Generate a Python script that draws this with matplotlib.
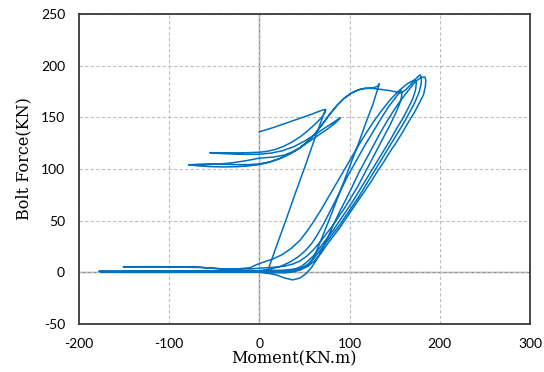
import matplotlib
matplotlib.use("Agg")
import matplotlib.pyplot as plt

plt.rcParams['axes.unicode_minus'] = False

# -----------------------------
# Data: (Moment KN.m, Bolt Force KN)
# -----------------------------
# upper band: first cycles, then the arc up into the bundle
upper_cycles = [
    (0, 136), (15, 140), (30, 144.5), (45, 149), (58, 153), (66, 155.8), (71, 157.3),
    (73.5, 157.5), (73, 155), (70.5, 151.5), (66, 147), (60, 142), (53, 136.5),
    (45, 131), (36, 126), (27, 122), (18, 119), (8, 117), (0, 116.2), (-12, 115.8),
    (-25, 115.6), (-40, 115.7), (-55, 115.8),
    (-45, 115.1), (-30, 114.5), (-15, 114.1), (0, 114.3), (12, 115.3), (25, 117.5),
    (38, 121.5), (50, 127), (62, 133.5), (73, 140), (82, 145), (87, 148), (89.5, 149.6),
    (88.5, 148.2), (84, 144.5), (76, 139), (66, 133), (55, 126.5), (44, 120), (33, 114.5),
    (22, 110), (11, 106.5), (0, 104.3), (-12, 103), (-25, 102.2), (-40, 102), (-55, 102.3),
    (-67, 103), (-78, 104),
    (-68, 104.6), (-55, 104.8), (-40, 104.5), (-25, 104.2), (-10, 104.3), (0, 105),
    (12, 107), (24, 110.5), (35, 115), (45, 120.5), (54, 127), (62, 134.5), (70, 143.5),
    (78, 153), (86, 161.5), (94, 168.5), (102, 173.5), (110, 176.7), (117, 178), (125, 178),
    (135, 177), (145, 175.8), (152, 174.5), (157, 173.5), (162, 176.5), (167, 181),
    (172, 186), (176, 189.5), (178, 191),
]
unload_a = [
    (179.5, 189), (179.5, 183), (177, 174), (172, 164), (166, 154), (159, 143), (152, 133),
    (145, 123), (138, 113), (131, 103), (124, 93), (117, 83), (110, 73), (103, 64),
    (96, 55), (89, 46), (82, 38), (75, 30), (68, 22), (61, 14), (54, 8), (47, 4),
    (39, 1.5), (30, 0.3), (18, 0), (0, 0.3), (-30, 0.3), (-80, 0.2), (-130, 0.2), (-176, 0.3),
]
load_hook = [
    (-130, 0.8), (-80, 0.8), (-40, 0.8), (0, 1.5), (12, 3), (24, 6), (34, 10), (43, 15),
    (51, 21), (58, 28), (64, 36), (70, 45), (76, 55), (83, 67), (91, 81),
    (99, 95), (108, 109), (117, 123), (126, 136), (135, 149), (143, 160), (150, 168),
    (154.5, 173), (157, 176),
]
unload_hook = [
    (158, 173), (157, 167), (154, 160), (150, 152), (145, 143), (139, 133), (133, 123),
    (127, 113), (121, 103), (115, 93), (109, 83), (102, 73), (95, 63), (88, 54), (81, 45),
    (74, 37), (67, 29), (60, 22), (53, 16), (45, 11), (37, 8), (28, 6), (18, 5), (8, 4.5),
    (0, 4), (-10, 3.2), (-25, 3.2), (-40, 3.3), (-55, 4.2), (-66, 5), (-90, 5.4),
    (-120, 5.5), (-151, 5.4),
]
load_shallow = [
    (-120, 5.1), (-90, 5), (-66, 4.7), (-45, 3.5), (-25, 3.3), (-10, 4.5), (-3, 7.5),
    (5, 10), (15, 13), (25, 17), (35, 23), (45, 31), (53, 40), (60, 49), (68, 60),
    (76, 72), (84, 84), (92, 96), (100, 108), (108, 120), (117, 133), (126, 145),
    (135, 156), (145, 167), (155, 176), (164, 182.5), (172.5, 186.5),
]
unload_shallow = [
    (174, 183), (173, 176), (170, 168), (165, 159), (159, 149), (152, 139), (145, 128),
    (138, 118), (131, 108), (124, 98), (117, 88), (110, 78), (103, 68), (96, 59), (89, 50),
    (82, 41), (75, 33), (68, 25), (61, 17), (54, 11), (47, 6), (39, 3), (30, 1),
    (18, 0.3), (0, 0.5), (-60, 0.5), (-120, 0.3), (-172, 0.3),
]
load_dip = [
    (-150, 0), (-100, 0), (-50, 0.3), (-20, 0.5), (0, 0), (10, -1), (19, -2.6), (28, -5.5),
    (37, -7.3), (45, -5.5), (52, -1), (58, 5), (64, 13), (70, 23), (76, 34), (82, 46),
    (88, 57), (95, 69), (103, 83), (110, 96), (118, 109), (126, 122), (134, 135),
    (142, 147), (150, 158), (158, 168), (166, 177), (173, 184.5), (179, 188.5), (183.5, 189),
]
unload_dip = [
    (184.5, 186), (184, 180), (182, 172), (178, 165), (172, 155), (165, 145), (159, 136),
    (152, 126), (145, 117), (138, 107), (131, 98), (124, 88), (117, 79), (110, 70),
    (103, 61), (96, 52), (89, 43), (82, 35), (75, 27), (68, 18), (61, 11), (54, 6),
    (46, 2.5), (38, 0.5), (28, -0.5), (15, -0.3), (0, 0.3), (-40, 1), (-100, 1.2), (-178, 1),
]
# last steep reload to the 133 KN.m tip, then back along the arc
load_steep = [
    (-130, 0.8), (-80, 0.8), (-30, 1), (0, 1.5), (25, 2), (45, 3.5), (55, 7), (60, 14),
    (65, 24), (70, 35), (77, 50), (88, 75), (99, 100), (110, 125), (119, 147), (126, 163),
    (130, 174), (133, 182.5),
]
unload_arc = [
    (131, 180), (125, 178.3), (117, 178), (110, 176.7), (102, 173.5), (94, 168.5),
    (86, 161.5), (78, 153), (70, 143.5), (62, 134.5), (54, 127), (45, 120.5), (38, 117),
    (28, 113.5), (15, 111.5), (0, 110.5), (-15, 108), (-30, 106), (-45, 104.8),
    (-60, 104.2), (-78, 104),
]
# separate steep branch from the lower band up to the 73 KN.m tip
steep_branch = [
    (-20, 0.5), (0, 0.7), (9.5, 2), (20, 28), (30, 52), (40, 77), (50, 101),
    (60, 126), (68, 145), (73, 157.5),
]

main_path = (upper_cycles + unload_a + load_hook + unload_hook + load_shallow
             + unload_shallow + load_dip + unload_dip + load_steep + unload_arc)

x_ticks = [-200, -100, 0, 100, 200, 300]
y_ticks = [-50, 0, 50, 100, 150, 200, 250]

# -----------------------------
# Plot
# -----------------------------
fig = plt.figure(figsize=(5.44, 3.72), dpi=100)
ax = fig.add_axes([79 / 544, 1 - 324 / 372, 451 / 544, 310 / 372])

ax.set_xlim(-200, 300)
ax.set_ylim(-50, 250)
ax.set_xticks(x_ticks)
ax.set_yticks(y_ticks)

ax.grid(True, linestyle=(0, (3, 2)), color='#bdbdbd', linewidth=0.8)
ax.axhline(0, color='#8c8c8c', linewidth=1.0, zorder=1.5)
ax.axvline(0, color='#8c8c8c', linewidth=1.0, zorder=1.5)

for branch in (main_path, steep_branch):
    m, f = zip(*branch)
    ax.plot(m, f, color='#0070C0', linewidth=1.1, zorder=3)

for s in ax.spines.values():
    s.set_color('#3a3a3a')
    s.set_linewidth(1.3)

ax.tick_params(length=0, labelsize=10, pad=10)
for lab in ax.get_xticklabels() + ax.get_yticklabels():
    lab.set_family('Lato')

ax.set_xlabel("Moment(KN.m)", family='DejaVu Serif', fontsize=11.5)
ax.set_ylabel("Bolt Force(KN)", family='DejaVu Serif', fontsize=11.5)
ax.xaxis.set_label_coords((294 - 79) / 451, -0.085)
ax.yaxis.set_label_coords(-0.104, (324 - 159) / 310)

fig.savefig("out.png", dpi=100)
